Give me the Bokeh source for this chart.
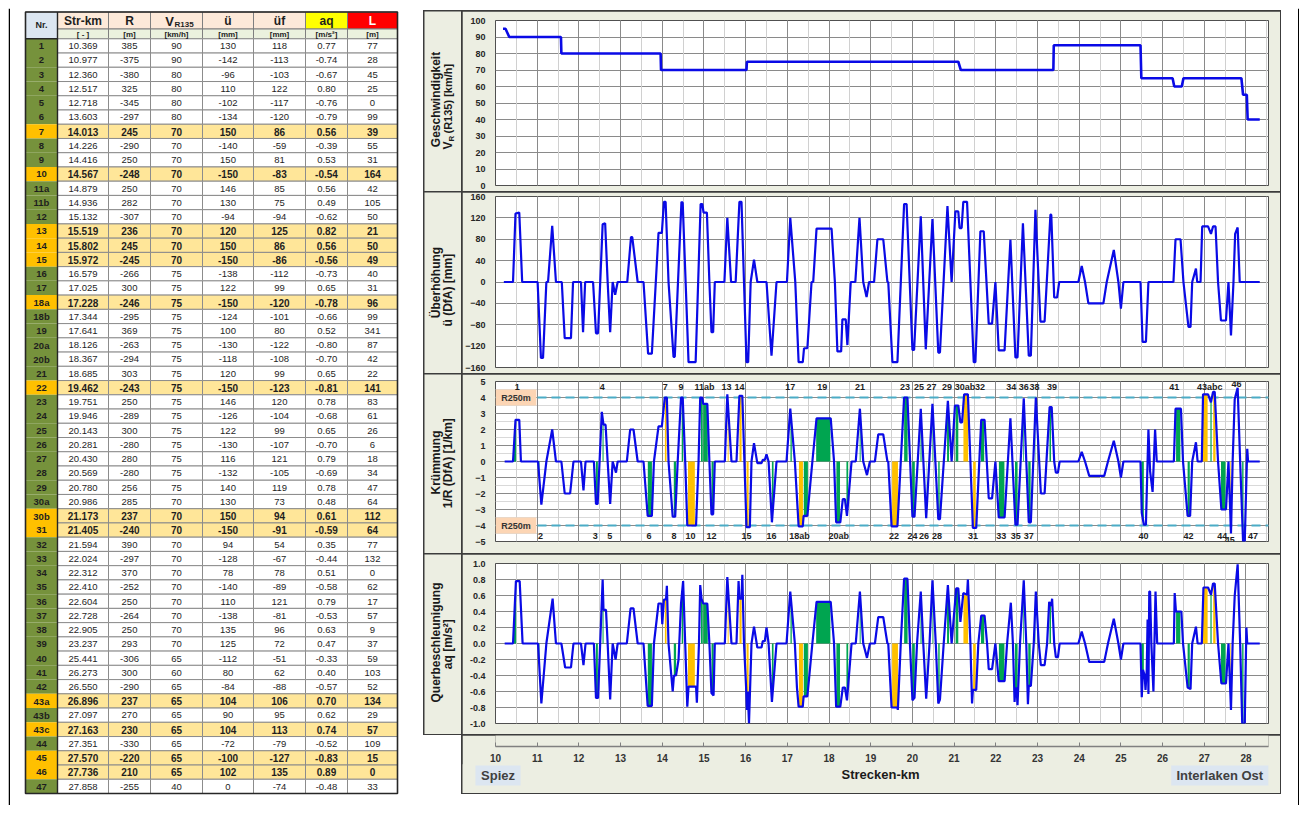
import math
import numpy as np
from bokeh.plotting import figure
from bokeh.models import (Range1d, SingleIntervalTicker, Grid, LabelSet, ColumnDataSource,
                          Span, Spacer, NumeralTickFormatter)
from bokeh.layouts import row, column
from bokeh.core.properties import value
from bokeh.embed import file_html
from bokeh.resources import INLINE

FONT = "Liberation Sans"

# ------------------------------------------------------------------ table data
nr = ["1", "2", "3", "4", "5", "6", "7", "8", "9", "10", "11a", "11b", "12", "13", "14", "15", "16",
      "17", "18a", "18b", "19", "20a", "20b", "21", "22", "23", "24", "25", "26", "27", "28", "29",
      "30a", "30b", "31", "32", "33", "34", "35", "36", "37", "38", "39", "40", "41", "42", "43a",
      "43b", "43c", "44", "45", "46", "47"]
str_km = [10.369, 10.977, 12.360, 12.517, 12.718, 13.603, 14.013, 14.226, 14.416, 14.567, 14.879,
          14.936, 15.132, 15.519, 15.802, 15.972, 16.579, 17.025, 17.228, 17.344, 17.641, 18.126,
          18.367, 18.685, 19.462, 19.751, 19.946, 20.143, 20.281, 20.430, 20.569, 20.780, 20.986,
          21.173, 21.405, 21.594, 22.024, 22.312, 22.410, 22.604, 22.728, 22.905, 23.237, 25.441,
          26.273, 26.550, 26.896, 27.097, 27.163, 27.351, 27.570, 27.736, 27.858]
radius = [385, -375, -380, 325, -345, -297, 245, -290, 250, -248, 250, 282, -307, 236, 245, -245,
          -266, 300, -246, -295, 369, -263, -294, 303, -243, 250, -289, 300, -280, 280, -280, 256,
          285, 237, -240, 390, -297, 370, -252, 250, -264, 250, 293, -306, 300, -290, 237, 270, 230,
          -330, -220, 210, -255]
v_r135 = [90, 90, 80, 80, 80, 80,
          70, 70, 70, 70, 70, 70, 70, 70, 70, 70,
          75, 75, 75, 75, 75, 75, 75, 75, 75, 75, 75, 75, 75, 75, 75, 75,
          70, 70, 70, 70, 70, 70, 70, 70, 70, 70, 70,
          65, 60, 65, 65, 65, 65, 65, 65, 65, 40]
ueb = [130, -142, -96, 110, -102, -134, 150, -140, 150, -150, 146, 130, -94, 120, 150, -150, -138,
       122, -150, -124, 100, -130, -118, 120, -150, 146, -126, 122, -130, 116, -132, 140, 130, 150,
       -150, 94, -128, 78, -140, 110, -138, 135, 125, -112, 80, -84, 104, 90, 104, -72, -100, 102, 0]
ueb_f = [118, -113, -103, 122, -117, -120, 86, -59, 81, -83, 85, 75, -94, 125, 86, -86, -112, 99,
         -120, -101, 80, -122, -108, 99, -123, 120, -104, 99, -107, 121, -105, 119, 73, 94, -91, 54,
         -67, 78, -89, 121, -81, 96, 72, -51, 62, -88, 106, 95, 113, -79, -127, 135, -74]
aq_tab = [0.77, -0.74, -0.67, 0.80, -0.76, -0.79, 0.56, -0.39, 0.53, -0.54, 0.56, 0.49, -0.62, 0.82,
          0.56, -0.56, -0.73, 0.65, -0.78, -0.66, 0.52, -0.80, -0.70, 0.65, -0.81, 0.78, -0.68, 0.65,
          -0.70, 0.79, -0.69, 0.78, 0.48, 0.61, -0.59, 0.35, -0.44, 0.51, -0.58, 0.79, -0.53, 0.63,
          0.47, -0.33, 0.40, -0.57, 0.70, 0.62, 0.74, -0.52, -0.83, 0.89, -0.48]
length_m = [77, 28, 45, 25, 0, 99, 39, 55, 31, 164, 42, 105, 50, 21, 50, 49, 40, 31, 96, 99, 341, 87,
            42, 22, 141, 83, 61, 26, 6, 18, 34, 47, 64, 112, 64, 77, 132, 0, 62, 17, 57, 9, 37, 59,
            103, 52, 134, 29, 57, 109, 15, 0, 33]
highlight = ["7", "10", "13", "14", "15", "18a", "22", "30b", "31", "43a", "43c", "45", "46"]

header_main = ["Nr.", "Str-km", "R", "V", "ü", "üf", "aq", "L"]
header_units = ["[ - ]", "[m]", "[km/h]", "[mm]", "[mm]", "[m/s²]", "[m]"]

# ------------------------------------------------------------------ profile data (km, value)
v_profile = [(10.18, 95), (10.24, 95), (10.33, 90), (11.57, 90), (11.58, 80), (13.96, 80), (13.97, 70),
             (16.02, 70), (16.03, 75), (21.10, 75), (21.16, 70), (23.38, 70), (23.39, 85), (25.47, 85),
             (25.49, 65), (26.24, 65), (26.28, 60), (26.46, 60), (26.50, 65), (27.89, 65), (27.93, 55),
             (28.02, 55), (28.04, 40), (28.33, 40)]

ue_profile = [(10.20, 0), (10.42, 0), (10.48, 128), (10.57, 130), (10.64, 0), (11.01, 0), (11.09, -142),
              (11.14, -142), (11.22, 0), (11.26, 0), (11.36, 105), (11.45, 0), (11.59, 0), (11.66, -105),
              (11.81, -105), (11.86, 0), (12.05, 0), (12.10, -94), (12.15, 0), (12.34, 0), (12.41, -96),
              (12.46, -96), (12.57, 108), (12.63, 110), (12.69, 0), (12.75, -94), (12.81, 0), (12.87, -24),
              (12.93, 0), (13.16, 0), (13.25, 84), (13.28, 84), (13.41, 0), (13.55, 0), (13.66, -134),
              (13.75, -134), (13.91, 92), (13.99, 92), (14.04, 150), (14.08, 150), (14.15, 0),
              (14.27, -140), (14.30, -140), (14.46, 150), (14.49, 148), (14.56, 0), (14.63, -150),
              (14.80, -150), (14.92, 146), (14.96, 146), (14.99, 130), (15.07, 130), (15.13, 0),
              (15.18, -94), (15.22, -94), (15.26, 0), (15.49, 0), (15.56, 120), (15.65, 0), (15.76, 0),
              (15.85, 150), (15.90, 150), (15.96, 0), (16.02, -150), (16.06, -150), (16.12, 0),
              (16.20, 42), (16.28, 0), (16.50, 0), (16.62, -138), (16.74, 0), (16.99, 0), (17.07, 120),
              (17.19, 0), (17.27, -150), (17.37, -150), (17.40, -124), (17.48, -124), (17.58, 0),
              (17.62, 0), (17.70, 100), (18.06, 100), (18.14, 0), (18.20, -130), (18.29, -130),
              (18.32, -70), (18.40, -70), (18.44, -118), (18.52, 0), (18.63, 0), (18.73, 120), (18.82, 0),
              (18.90, -28), (18.96, 0), (19.08, 0), (19.16, 80), (19.30, 80), (19.40, 0), (19.42, 0),
              (19.52, -150), (19.64, -150), (19.80, 146), (19.86, 146), (20.00, -127), (20.04, -127),
              (20.20, 123), (20.32, -126), (20.48, 118), (20.62, -132), (20.66, -132), (20.84, 142),
              (20.94, 0), (21.03, 132), (21.10, 132), (21.13, 101), (21.18, 101), (21.22, 150),
              (21.31, 150), (21.47, -150), (21.51, -150), (21.63, 95), (21.71, 95), (21.83, -78),
              (21.91, -78), (21.99, 0), (22.07, -128), (22.21, -128), (22.35, 79), (22.47, -141),
              (22.52, -141), (22.65, 110), (22.79, -138), (22.84, -138), (22.95, 135), (23.07, -74),
              (23.17, -74), (23.31, 126), (23.33, 126), (23.40, -29), (23.47, -29), (23.52, 0),
              (23.98, 0), (24.06, 30), (24.14, 0), (24.22, -40), (24.58, -40), (24.66, 0), (24.83, 60),
              (24.94, 0), (25.00, -50), (25.06, 0), (25.47, 0), (25.52, -112), (25.60, -112), (25.66, 0),
              (26.26, 0), (26.31, 80), (26.43, 80), (26.50, 0), (26.62, -84), (26.67, -84), (26.71, 0),
              (26.80, 25), (26.83, 0), (26.91, 0), (26.95, 104), (27.09, 104), (27.16, 90), (27.21, 104),
              (27.27, 104), (27.33, 0), (27.40, -72), (27.52, -72), (27.58, 0), (27.64, -100), (27.70, 0),
              (27.74, 90), (27.80, 102), (27.85, 0), (28.33, 0)]

kr_profile = [(10.22, 0), (10.42, 0), (10.48, 2.6), (10.57, 2.6), (10.61, 0), (11.02, 0), (11.10, -2.7),
              (11.22, 0), (11.36, 2.0), (11.45, 0), (11.58, 0), (11.66, -2.0), (11.79, -2.0), (11.87, 0),
              (12.05, 0), (12.11, -1.8), (12.16, 0), (12.36, 0), (12.41, -2.65), (12.45, -2.65),
              (12.55, 3.1), (12.59, 2.3), (12.64, 2.3), (12.69, 0), (12.75, -2.65), (12.81, 0),
              (12.89, -0.7), (12.93, 0), (13.15, 0), (13.23, 2.0), (13.31, 2.0), (13.41, 0), (13.55, 0),
              (13.65, -3.4), (13.75, -3.4), (13.80, 0), (13.91, 2.2), (13.99, 2.2), (14.06, 4.0),
              (14.11, 4.0), (14.15, 0), (14.25, -3.45), (14.31, -3.45), (14.37, 0), (14.45, 4.0),
              (14.49, 4.0), (14.55, 0), (14.60, -4.0), (14.81, -4.0), (14.87, 0), (14.91, 4.0),
              (14.96, 4.0), (14.98, 3.6), (15.08, 3.6), (15.13, 0), (15.18, -3.3), (15.22, -3.3),
              (15.26, 0), (15.50, 0), (15.56, 4.2), (15.66, 0), (15.78, 0), (15.85, 4.1), (15.92, 4.1),
              (15.97, 0), (16.02, -4.1), (16.10, -4.1), (16.14, 0), (16.20, 1.15), (16.28, -0.1),
              (16.38, -0.1), (16.41, 0.1), (16.46, 0.1), (16.50, 0.45), (16.55, 0), (16.63, -3.8),
              (16.74, 0), (16.98, 0), (17.07, 3.3), (17.18, 0), (17.27, -4.05), (17.37, -4.05),
              (17.39, -3.4), (17.48, -3.4), (17.60, 0), (17.70, 2.7), (18.04, 2.7), (18.12, 0),
              (18.17, -3.8), (18.27, -3.8), (18.33, -2.35), (18.38, -2.35), (18.43, -3.4), (18.54, 0),
              (18.64, 0), (18.74, 3.3), (18.82, 0), (18.91, -0.85), (18.98, 0), (19.10, 0), (19.18, 1.7),
              (19.30, 1.7), (19.40, 0), (19.42, 0), (19.50, -4.05), (19.64, -4.05), (19.80, 4.0),
              (19.88, 4.0), (20.00, -3.45), (20.05, -3.45), (20.20, 3.3), (20.33, -3.55), (20.48, 3.6),
              (20.62, -3.6), (20.66, -3.6), (20.85, 3.8), (20.94, 0), (21.02, 3.5), (21.10, 3.5),
              (21.15, 2.45), (21.19, 2.45), (21.24, 4.2), (21.33, 4.2), (21.45, -4.15), (21.53, -4.15),
              (21.65, 2.6), (21.73, 2.6), (21.83, -2.3), (21.91, -2.3), (21.99, 0), (22.07, -3.5),
              (22.21, -3.5), (22.35, 2.7), (22.47, -3.95), (22.52, -3.95), (22.67, 3.95), (22.79, -3.8),
              (22.84, -3.8), (22.96, 4.0), (23.08, -2.0), (23.17, -2.0), (23.29, 3.4), (23.34, 3.4),
              (23.40, 0), (23.44, -0.7), (23.49, -0.7), (23.53, 0), (23.98, 0), (24.06, 0.6), (24.14, 0),
              (24.24, -0.9), (24.60, -0.9), (24.69, 0), (24.83, 1.3), (24.94, 0), (25.00, -1.0),
              (25.06, 0), (25.47, 0), (25.50, -3.2), (25.55, -3.95), (25.60, -3.95), (25.66, 2.0),
              (25.70, -0.6), (25.76, -1.9), (25.82, 2.0), (25.86, 0), (26.27, 0), (26.31, 3.3),
              (26.44, 3.3), (26.49, 0), (26.60, -3.4), (26.66, -3.4), (26.71, 0), (26.80, 1.2),
              (26.84, 0), (26.94, 0), (26.97, 4.2), (27.09, 4.2), (27.16, 3.7), (27.21, 4.35),
              (27.25, 4.35), (27.33, 0), (27.41, -3.0), (27.52, -3.0), (27.58, 0), (27.64, -4.5),
              (27.68, 0), (27.73, 3.9), (27.80, 4.6), (27.86, 0), (27.93, -5.0), (27.97, -5.0),
              (28.03, 0.8), (28.05, 0), (28.33, 0)]

aq_profile = [(10.22, 0), (10.42, 0), (10.49, 0.78), (10.58, 0.78), (10.65, 0), (11.02, 0), (11.10, -0.75),
              (11.22, 0), (11.37, 0.56), (11.45, 0), (11.58, 0), (11.67, -0.3), (11.81, -0.3), (11.87, 0),
              (12.05, 0), (12.11, -0.27), (12.16, 0), (12.36, 0), (12.41, -0.68), (12.46, -0.68),
              (12.57, 0.8), (12.59, 0.42), (12.65, 0.42), (12.69, 0), (12.75, -0.7), (12.81, 0),
              (12.88, -0.2), (12.93, 0), (13.15, 0), (13.24, 0.44), (13.31, 0.44), (13.41, 0),
              (13.55, 0), (13.65, -0.78), (13.75, -0.78), (13.80, 0), (13.91, 0.5), (13.98, 0.5),
              (14.00, 0.24), (14.04, 0.55), (14.09, 0.55), (14.11, 0.72), (14.15, 0), (14.25, -0.6),
              (14.28, -0.4), (14.33, -0.4), (14.39, -0.2), (14.45, 0.5), (14.50, 0.78), (14.55, 0),
              (14.60, -0.79), (14.63, -0.54), (14.81, -0.54), (14.83, -0.74), (14.88, 0), (14.91, 0.73),
              (14.94, 0.56), (14.98, 0.5), (15.08, 0.5), (15.13, 0), (15.18, -0.62), (15.23, -0.65),
              (15.26, 0), (15.50, 0), (15.56, 0.83), (15.66, 0), (15.78, 0), (15.83, 0.78), (15.85, 0.56),
              (15.90, 0.56), (15.92, 0.86), (15.96, 0), (16.01, -0.54), (16.03, -0.83), (16.05, -0.6),
              (16.08, -1.0), (16.14, 0), (16.20, 0.21), (16.28, -0.05), (16.38, -0.05), (16.41, 0.03),
              (16.46, 0.03), (16.50, 0.2), (16.55, 0), (16.63, -0.73), (16.74, 0), (16.98, 0),
              (17.07, 0.65), (17.18, 0), (17.23, -0.55), (17.27, -0.79), (17.37, -0.79), (17.39, -0.66),
              (17.48, -0.66), (17.60, 0), (17.70, 0.52), (18.04, 0.52), (18.12, 0), (18.17, -0.79),
              (18.27, -0.79), (18.33, -0.55), (18.38, -0.55), (18.43, -0.71), (18.54, 0), (18.64, 0),
              (18.74, 0.65), (18.82, 0), (18.91, -0.18), (18.98, 0), (19.10, 0), (19.18, 0.33),
              (19.30, 0.33), (19.40, 0), (19.42, 0), (19.50, -0.8), (19.64, -0.8), (19.65, -0.83),
              (19.72, 0), (19.80, 0.81), (19.88, 0.81), (19.94, 0), (20.00, -0.71), (20.05, -0.68),
              (20.11, 0), (20.20, 0.65), (20.26, 0), (20.33, -0.69), (20.41, 0), (20.48, 0.79),
              (20.56, 0), (20.62, -0.75), (20.66, -0.7), (20.75, 0), (20.85, 0.73), (20.94, 0),
              (21.05, 0.69), (21.10, 0.69), (21.15, 0.27), (21.22, 0.63), (21.31, 0.61), (21.33, 0.8),
              (21.39, 0), (21.43, -0.75), (21.45, -0.58), (21.53, -0.58), (21.58, 0), (21.65, 0.35),
              (21.73, 0.35), (21.79, 0), (21.83, -0.32), (21.91, -0.32), (21.99, 0), (22.07, -0.47),
              (22.21, -0.47), (22.27, 0), (22.36, 0.51), (22.41, 0), (22.45, -0.73), (22.47, -0.56),
              (22.50, -0.56), (22.52, -0.77), (22.58, 0), (22.67, 0.79), (22.73, 0), (22.77, -0.76),
              (22.79, -0.53), (22.84, -0.53), (22.91, 0), (22.96, 0.65), (23.03, 0), (23.08, -0.27),
              (23.17, -0.27), (23.23, 0), (23.28, 0.52), (23.33, 0.47), (23.35, 0.56), (23.40, 0),
              (23.44, -0.17), (23.49, -0.17), (23.53, 0), (23.98, 0), (24.06, 0.15), (24.14, 0),
              (24.24, -0.23), (24.60, -0.23), (24.69, 0), (24.83, 0.31), (24.94, 0), (25.00, -0.2),
              (25.06, 0), (25.47, 0), (25.50, -0.67), (25.53, -0.33), (25.57, -0.4), (25.59, -0.58),
              (25.62, -0.33), (25.64, 0.3), (25.66, -0.63), (25.68, 0.65), (25.70, 0.65), (25.73, 0),
              (25.78, -0.6), (25.83, 0.65), (25.87, 0), (26.27, 0), (26.29, 0.63), (26.32, 0.4),
              (26.45, 0.4), (26.49, 0), (26.60, -0.55), (26.67, -0.57), (26.71, 0), (26.80, 0.21),
              (26.84, 0), (26.94, 0), (26.98, 0.7), (27.09, 0.7), (27.16, 0.61), (27.21, 0.75),
              (27.25, 0.75), (27.33, 0), (27.41, -0.5), (27.52, -0.5), (27.58, 0), (27.64, -0.83),
              (27.68, 0), (27.73, 0.6), (27.80, 0.99), (27.86, 0), (27.91, -1.0), (27.97, -1.0),
              (28.01, 0.2), (28.03, 0), (28.33, 0)]

top_label_txt = ["1", "4", "7", "9", "11ab", "13", "14", "17", "19", "21", "23", "25", "27", "29", "30ab",
                 "32", "34", "36", "38", "39", "41", "43abc", "46"]
top_label_km = [10.52, 12.56, 14.07, 14.45, 15.01, 15.54, 15.85, 17.07, 17.84, 18.74, 19.82, 20.16,
                20.46, 20.83, 21.26, 21.62, 22.37, 22.67, 22.93, 23.35, 26.28, 27.13, 27.77]
bot_label_txt = ["2", "3", "5", "6", "8", "10", "12", "15", "16", "18ab", "20ab", "22", "24", "26", "28",
                 "31", "33", "35", "37", "40", "42", "44", "47", "45"]
bot_label_km = [11.08, 12.39, 12.74, 13.68, 14.28, 14.68, 15.18, 16.02, 16.62, 17.29, 18.23, 19.56, 20.00,
                20.28, 20.59, 21.45, 22.13, 22.48, 22.79, 25.54, 26.62, 27.43, 28.17, 27.61]

R_LIMIT = 250  # m  -> dashed limit line in 1/km

# ------------------------------------------------------------------ styling constants
BEIGE = "#ECEEE2"
BORDER = "#3C3C3C"
BLUE = "#0A0AE6"
GREEN = "#00A550"
ORANGE = "#FFC000"
FILL_SHIFT = 0.05

# ================================================================== TABLE FIGURE
tf = figure(width=415, height=797, x_range=Range1d(8, 423), y_range=Range1d(805, 8),
            x_axis_type=None, y_axis_type=None, min_border=0, toolbar_location=None,
            output_backend="svg")
tf.outline_line_color = None
tf.background_fill_color = "white"
tf.border_fill_color = "white"

col_x = [25, 57, 108, 150, 202, 253, 305, 347, 397]
h_top, h_mid, h_bot = 11.5, 28.5, 38.3
t_bot = 793.0
nrow = len(nr)
rh = (t_bot - h_bot) / nrow
xc = [(col_x[i] + col_x[i + 1]) / 2 for i in range(8)]

# left page frame line
tf.quad(left=[8], right=[9.5], top=[8], bottom=[805], fill_color="black", line_color=None)

# header cells
hdr_fill = ["#FDE9D9", "#FDE9D9", "#FDE9D9", "#FDE9D9", "#FDE9D9", "#FFFF00", "#FF0000"]
tf.quad(left=[col_x[0]], right=[col_x[1]], top=[h_top], bottom=[h_bot], fill_color="#DCE6F1",
        line_color="#7F7F7F")
tf.quad(left=col_x[1:8], right=col_x[2:9], top=[h_top] * 7, bottom=[h_mid] * 7, fill_color=hdr_fill,
        line_color="#7F7F7F")
tf.quad(left=col_x[1:8], right=col_x[2:9], top=[h_mid] * 7, bottom=[h_bot] * 7, fill_color="#EBF1DE",
        line_color="#7F7F7F")

# data cells
is_hl = [n in highlight for n in nr]
row_top = [h_bot + i * rh for i in range(nrow)]
row_bot = [h_bot + (i + 1) * rh for i in range(nrow)]
tf.quad(left=[col_x[0]] * nrow, right=[col_x[1]] * nrow, top=row_top, bottom=row_bot,
        fill_color=[ORANGE if h else "#76923C" for h in is_hl], line_color=None)
cl, cr, ct, cb, cf = [], [], [], [], []
for i in range(nrow):
    for j in range(1, 8):
        cl.append(col_x[j]); cr.append(col_x[j + 1]); ct.append(row_top[i]); cb.append(row_bot[i])
        cf.append("#FFE699" if is_hl[i] else "white")
tf.quad(left=cl, right=cr, top=ct, bottom=cb, fill_color=cf, line_color="#8C8C8C", line_width=1)
# borders
tf.quad(left=[col_x[0]], right=[col_x[-1]], top=[h_top], bottom=[t_bot], fill_color=None,
        line_color="#262626", line_width=1.6)
tf.segment(x0=[col_x[1], col_x[0]], y0=[h_top, h_bot], x1=[col_x[1], col_x[1]], y1=[t_bot, h_bot],
           line_color="#262626", line_width=1.4)

txt_kw = dict(text_font=value(FONT), text_align="center", text_baseline="middle", text_color="#1E1E1E")
# header texts
tf.text(x=[xc[0]], y=[(h_top + h_bot) / 2], text=["Nr."], text_font_size="9px", text_font_style="bold", **txt_kw)
hm_y = (h_top + h_mid) / 2 + 0.5
tf.text(x=[xc[1], xc[2], xc[4], xc[5], xc[6]], y=[hm_y] * 5,
        text=[header_main[1], header_main[2], header_main[4], header_main[5], header_main[6]],
        text_font_size="12px", text_font_style="bold", **txt_kw)
tf.text(x=[xc[7]], y=[hm_y], text=[header_main[7]], text_font_size="12px", text_font_style="bold",
        text_font=value(FONT), text_align="center", text_baseline="middle", text_color="white")
tf.text(x=[xc[3] - 7], y=[hm_y], text=[header_main[3]], text_font_size="13px", text_font_style="bold", **txt_kw)
tf.text(x=[xc[3] - 2], y=[hm_y + 3], text=["R135"], text_font_size="8px", text_font_style="bold",
        text_font=value(FONT), text_align="left", text_baseline="middle", text_color="#1E1E1E")
tf.text(x=xc[1:8], y=[(h_mid + h_bot) / 2 + 0.3] * 7, text=header_units, text_font_size="8px",
        text_font_style="bold", **txt_kw)

# data texts
cols_fmt = [[f"{v:.3f}" for v in str_km], [str(v) for v in radius], [str(v) for v in v_r135],
            [str(v) for v in ueb], [str(v) for v in ueb_f], [f"{v:.2f}" for v in aq_tab],
            [str(v) for v in length_m]]
row_mid = [(row_top[i] + row_bot[i]) / 2 + 0.3 for i in range(nrow)]
tf.text(x=[xc[0]] * nrow, y=row_mid, text=nr, text_font_size="9.5px", text_font_style="bold", **txt_kw)
for j in range(7):
    xs_n, ys_n, ts_n, xs_b, ys_b, ts_b = [], [], [], [], [], []
    for i in range(nrow):
        if is_hl[i]:
            xs_b.append(xc[j + 1]); ys_b.append(row_mid[i]); ts_b.append(cols_fmt[j][i])
        else:
            xs_n.append(xc[j + 1]); ys_n.append(row_mid[i]); ts_n.append(cols_fmt[j][i])
    tf.text(x=xs_n, y=ys_n, text=ts_n, text_font_size="9.5px", **txt_kw)
    tf.text(x=xs_b, y=ys_b, text=ts_b, text_font_size="10px", text_font_style="bold", **txt_kw)

# ================================================================== CHART PANELS
X0, X1 = 10.0, 28.54
B_LEFT, B_RIGHT, PW = 30, 12, 818
xr = Range1d(X0, X1)


def make_panel(h, top, bottom, yr, yint, minor=0, fmt=None):
    p = figure(width=PW, height=h, x_range=xr, y_range=Range1d(*yr), x_axis_type=None,
               toolbar_location=None, output_backend="svg",
               min_border_left=B_LEFT, min_border_right=B_RIGHT, min_border_top=top, min_border_bottom=bottom)
    p.background_fill_color = "white"
    p.border_fill_color = BEIGE
    p.outline_line_color = "#505050"
    ax = p.yaxis[0]
    ax.ticker = SingleIntervalTicker(interval=yint, num_minor_ticks=minor)
    ax.axis_line_color = None
    ax.major_tick_line_color = None
    ax.minor_tick_line_color = None
    ax.major_label_text_font = FONT
    ax.major_label_text_font_size = "9px"
    ax.major_label_text_font_style = "bold"
    ax.major_label_text_color = "#262626"
    ax.major_label_standoff = 4
    if fmt:
        ax.formatter = NumeralTickFormatter(format=fmt)
    p.ygrid.grid_line_color = "#8A8A8A"
    p.ygrid.minor_grid_line_color = "#D9D9D9" if minor else None
    p.add_layout(Grid(dimension=0, ticker=SingleIntervalTicker(interval=1, num_minor_ticks=2),
                      grid_line_color="#8A8A8A", minor_grid_line_color="#D0D0D0"))
    return p


def add_fills(p, prof):
    pk = [a for a, _ in prof]
    pv = [b for _, b in prof]
    for km0, L, n in zip(str_km, length_m, nr):
        if L <= 0:
            continue
        a = km0 + FILL_SHIFT
        b = a + L / 1000.0
        xs = np.unique(np.concatenate([np.linspace(a, b, 6), [k for k in pk if a < k < b]]))
        ys = np.interp(xs, pk, pv)
        p.varea(x=xs, y1=np.zeros_like(xs), y2=ys, fill_color=ORANGE if n in highlight else GREEN)


def add_line(p, prof, w=2.2):
    p.line([a for a, _ in prof], [b for _, b in prof], line_color=BLUE, line_width=w)


# panel 1: speed
p1 = make_panel(180, 9, 6, (0, 100), 10)
add_line(p1, v_profile, 2.6)

# panel 2: superelevation
p2 = make_panel(181, 4, 6, (-160, 160), 40)
add_line(p2, ue_profile)

# panel 3: curvature
p3 = make_panel(179, 7, 12, (-5, 5), 1, minor=2)
add_fills(p3, kr_profile)
add_line(p3, kr_profile)
k_lim = 1000.0 / R_LIMIT
for s in (k_lim, -k_lim):
    p3.add_layout(Span(location=s, dimension="width", line_color="#4BACC6", line_dash="9 5",
                       line_width=2, level="underlay"))
    p3.quad(left=[10.0], right=[10.98], bottom=[s - 0.5], top=[s + 0.5], fill_color="#FCD5B4",
            line_color=None)
    p3.text(x=[10.49], y=[s], text=[f"R{R_LIMIT}m"], text_font=value(FONT), text_font_size="9px",
            text_font_style="bold", text_align="center", text_baseline="middle", text_color="#333333")
tsrc = ColumnDataSource(dict(x=top_label_km, y=[4.68] * (len(top_label_km) - 1) + [4.86], t=top_label_txt))
bsrc = ColumnDataSource(dict(x=bot_label_km, y=[-4.67] * (len(bot_label_km) - 1) + [-4.88], t=bot_label_txt))
for src in (tsrc, bsrc):
    p3.add_layout(LabelSet(x="x", y="y", text="t", source=src, text_font=value(FONT),
                           text_font_size="9px", text_font_style="bold", text_align="center",
                           text_baseline="middle", text_color="#1E1E1E"))

# panel 4: lateral acceleration
p4 = make_panel(180, 9, 11, (-1, 1), 0.2, fmt="0.0")
add_fills(p4, aq_profile)
add_line(p4, aq_profile)

# x-axis strip
xb = figure(width=PW, height=30, x_range=xr, y_range=Range1d(0, 1), y_axis_type=None,
            toolbar_location=None, output_backend="svg",
            min_border_left=B_LEFT, min_border_right=B_RIGHT, min_border_top=0, min_border_bottom=19)
xb.background_fill_color = BEIGE
xb.border_fill_color = BEIGE
xb.outline_line_color = None
xb.xgrid.visible = False
xa = xb.xaxis[0]
xa.ticker = SingleIntervalTicker(interval=1, num_minor_ticks=0)
xa.major_label_text_font = FONT
xa.major_label_text_font_size = "10px"
xa.major_label_text_font_style = "bold"
xa.major_label_text_color = "#333333"
xa.major_label_standoff = 7
xa.axis_line_color = "#808080"
xa.axis_line_width = 1.5
xa.major_tick_line_color = "#808080"
xa.major_tick_in = 4
xa.major_tick_out = 0
xa.minor_tick_line_color = None

# strip below the axis: axis title and station names (own frame, not aligned to the panels)
px_per_km = (PW - B_LEFT - B_RIGHT) / (X1 - X0)
xt = figure(width=PW, height=29, x_range=Range1d(X0 - B_LEFT / px_per_km, X1 + B_RIGHT / px_per_km),
            y_range=Range1d(0, 29), x_axis_type=None, y_axis_type=None, min_border=0,
            toolbar_location=None, output_backend="svg")
xt.frame_align = False
xt.background_fill_color = BEIGE
xt.border_fill_color = BEIGE
xt.outline_line_color = None
xt.text(x=[(X0 + X1) / 2], y=[19], text=["Strecken-km"], text_font=value(FONT), text_font_size="13px",
        text_font_style="bold", text_align="center", text_baseline="middle", text_color="#1A1A1A")
stations = ["Spiez", "Interlaken Ost"]
st_left = [9.593, 26.216]
st_right = [10.67, 28.536]
xt.quad(left=st_left, right=st_right, bottom=[8, 8], top=[28, 28], fill_color="#DCE6F1", line_color=None)
xt.text(x=[(a + b) / 2 for a, b in zip(st_left, st_right)], y=[18, 18], text=stations,
        text_font=value(FONT), text_font_size="13px", text_font_style="bold", text_align="center",
        text_baseline="middle", text_color="#404040")


# rotated axis titles
def make_label(h, pieces):
    f = figure(width=37, height=h, x_range=Range1d(0, 37), y_range=Range1d(0, h), x_axis_type=None,
               y_axis_type=None, min_border=0, toolbar_location=None, output_backend="svg")
    f.frame_align = False
    f.background_fill_color = BEIGE
    f.border_fill_color = BEIGE
    f.outline_line_color = None
    for txt, x, y, size, align in pieces:
        f.text(x=[x], y=[y], text=[txt], angle=math.pi / 2, text_align=align, text_baseline="middle",
               text_font=value(FONT), text_font_size=size, text_font_style="bold", text_color="#1A1A1A")
    return f


l1 = make_label(180, [("Geschwindigkeit", 11, 92, "12px", "center"),
                      ("V", 23, 42, "12px", "left"), ("R", 26.5, 50, "8px", "left"),
                      ("(R135)  [km/h]", 23, 58, "11px", "left")])
l2 = make_label(181, [("Überhöhung", 11, 91, "12px", "center"), ("ü (DfA)  [mm]", 23, 85, "12px", "center")])
l3 = make_label(179, [("Krümmung", 11, 91, "12px", "center"), ("1/R (DfA)  [1/km]", 23, 92, "12px", "center")])
l4 = make_label(180, [("Querbeschleunigung", 11, 92, "12px", "center"), ("aq  [m/s²]", 23, 92, "12px", "center")])

# ------------------------------------------------------------------ layout with border lines
lefts = [l1, l2, l3, l4]
for i, c in enumerate(lefts):
    c.margin = (1 if i == 0 else 0, 0, 1, 1)
rights = [p1, p2, p3, p4, xb, xt]
for i, c in enumerate(rights):
    top_m = 1 if i == 0 else (-1 if c is xt else 0)
    c.margin = (top_m, 1, 0 if c is xb else 1, 1)

left_col = column(*lefts, spacing=0, styles={"background-color": BORDER}, align="start")
right_col = column(*rights, spacing=0, styles={"background-color": BORDER}, align="start")
chart = column(Spacer(width=858, height=2), row(left_col, right_col, align="start"))

rf = figure(width=18, height=797, x_range=Range1d(0, 18), y_range=Range1d(0, 797), x_axis_type=None,
            y_axis_type=None, min_border=0, toolbar_location=None, output_backend="svg")
rf.outline_line_color = None
rf.background_fill_color = "white"
rf.border_fill_color = "white"
rf.quad(left=[16.5], right=[18], bottom=[0], top=[797], fill_color="black", line_color=None)

# the document body has no margin of its own: offset the whole page by 8 px
page = row(tf, chart, rf, align="start", margin=(8, 0, 0, 8))

with open("out.html", "w") as fh:
    fh.write(file_html(page, INLINE))
